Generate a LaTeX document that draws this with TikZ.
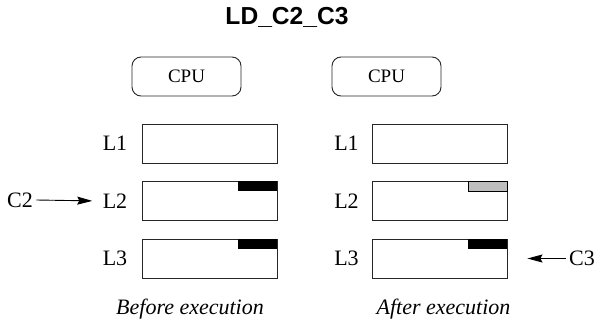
\documentclass[tikz,border=0pt]{standalone}
\usepackage{fontspec}
\setmainfont{Liberation Serif}
\newfontfamily\titlefont{Liberation Sans}
\usetikzlibrary{arrows.meta}
\definecolor{stale}{RGB}{190,190,190}
\begin{document}
\begin{tikzpicture}[x=1pt,y=1pt,
  line/.style={line width=0.9pt, draw=black!85},
  cpubox/.style={line, rounded corners=9pt, minimum width=109pt, minimum height=39pt, inner sep=0pt, font=\fontsize{19}{22}\selectfont},
  cachebox/.style={line, minimum width=135pt, minimum height=39pt, inner sep=0pt},
  lvl/.style={font=\fontsize{22}{26}\selectfont},
  caption/.style={font=\fontsize{22}{26}\selectfont\itshape},
  pointer/.style={line width=0.9pt, -{Stealth[length=15pt,width=8pt,inset=2pt]}},
  line block/.style={fill=black},
  stale block/.style={fill=stale, draw=black, line width=0.9pt}]
\useasboundingbox (0,0) rectangle (601,322);

% title
\node[font=\titlefont\bfseries\fontsize{24.6}{28}\selectfont] (title) at (287,304.5) {LD\_C2\_C3};

% CPUs
\node[cpubox] (cpuA) at (186.5,245.5) {CPU};
\node[cpubox] (cpuB) at (386.5,245.5) {CPU};

% cache levels, before execution
\node[cachebox] (a1) at (209.5,178.5) {};
\node[cachebox] (a2) at (209.5,121) {};
\node[cachebox] (a3) at (209.5,63.5) {};
\node[lvl] (la1) at (115,178.5) {L1};
\node[lvl] (la2) at (115,121) {L2};
\node[lvl] (la3) at (115,63.5) {L3};
\fill[line block] ([xshift=-39pt,yshift=-10pt]a2.north east) rectangle (a2.north east);
\fill[line block] ([xshift=-39pt,yshift=-10pt]a3.north east) rectangle (a3.north east);

% cache levels, after execution
\node[cachebox] (b1) at (439.5,178.5) {};
\node[cachebox] (b2) at (439.5,121) {};
\node[cachebox] (b3) at (439.5,63.5) {};
\node[lvl] (lb1) at (346.5,178.5) {L1};
\node[lvl] (lb2) at (346.5,121) {L2};
\node[lvl] (lb3) at (346.5,63.5) {L3};
\filldraw[stale block] ([xshift=-39pt,yshift=-10pt]b2.north east) rectangle (b2.north east);
\fill[line block] ([xshift=-39pt,yshift=-10pt]b3.north east) rectangle (b3.north east);

% requesting cores
\node[lvl] (c2) at (20,122) {C2};
\node[lvl] (c3) at (582,63.5) {C3};
\draw[pointer, shorten >=7pt] (c2.east) -- (la2.west);
\draw[pointer, shorten >=20pt] (c3.west) -- (b3.east);

% captions
\node[caption] (capA) at (190,13) {Before execution};
\node[caption] (capB) at (443.5,13) {After execution};
\end{tikzpicture}
\end{document}
